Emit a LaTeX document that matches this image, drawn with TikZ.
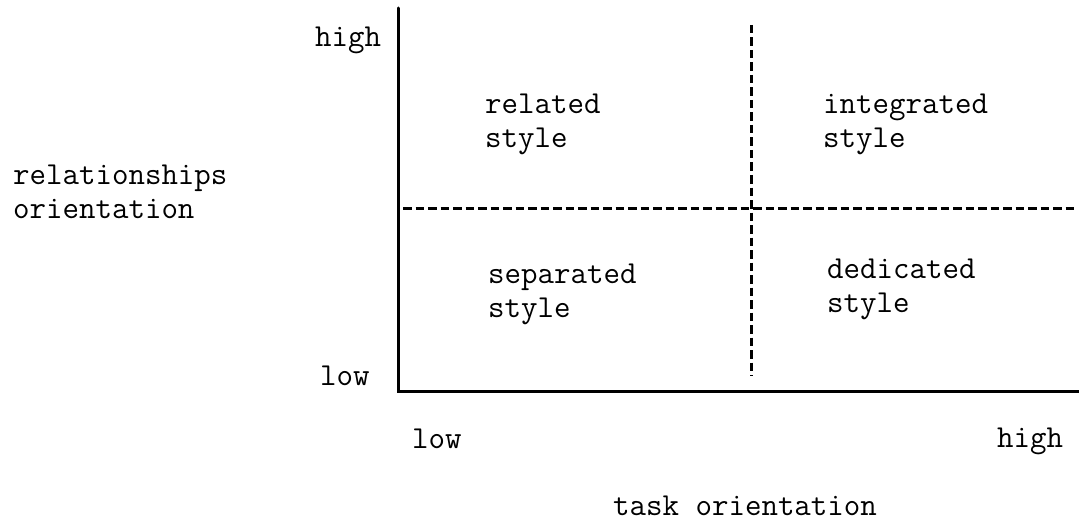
\documentclass[tikz,border=0pt]{standalone}
\usepackage{fontspec}
\begin{document}
\begin{tikzpicture}[x=1pt,y=-1pt,
  lbl/.style={font=\ttfamily\fontsize{32}{34}\selectfont\addfontfeatures{FakeBold=4},
    inner sep=0pt, anchor=base west, align=left},
  axis/.style={line width=3pt, line cap=round},
  divider/.style={line width=3pt, dash pattern=on 8.5pt off 4pt}]
\useasboundingbox (0,0) rectangle (1079,524);

% axes
\coordinate (top) at (398,8);
\coordinate (origin) at (398,391);
\coordinate (right) at (1079,391);
\draw[axis] (top) -- (origin) -- (right);

% quadrant dividers
\coordinate (hl) at (403,208);
\coordinate (hr) at (1076,208);
\coordinate (vt) at (751,25);
\coordinate (vb) at (751,376);
\draw[divider] (hl) -- (hr);
\draw[divider] (vt) -- (vb);

% axis labels (multi-line nodes sit on the baseline of their last line)
\node[lbl] (yhigh) at (315,47) {high};
\node[lbl] (ylow) at (320,385) {low};
\node[lbl] (ytitle) at (13,218) {relationships\\orientation};
\node[lbl] (xlow) at (412,448) {low};
\node[lbl] (xhigh) at (997,447) {high};
\node[lbl] (xtitle) at (613,515) {task orientation};

% quadrant labels
\node[lbl] (related) at (485,148) {related\\style};
\node[lbl] (integrated) at (823,147) {integrated\\style};
\node[lbl] (separated) at (488,317) {separated\\style};
\node[lbl] (dedicated) at (827,312) {dedicated\\style};
\end{tikzpicture}
\end{document}
